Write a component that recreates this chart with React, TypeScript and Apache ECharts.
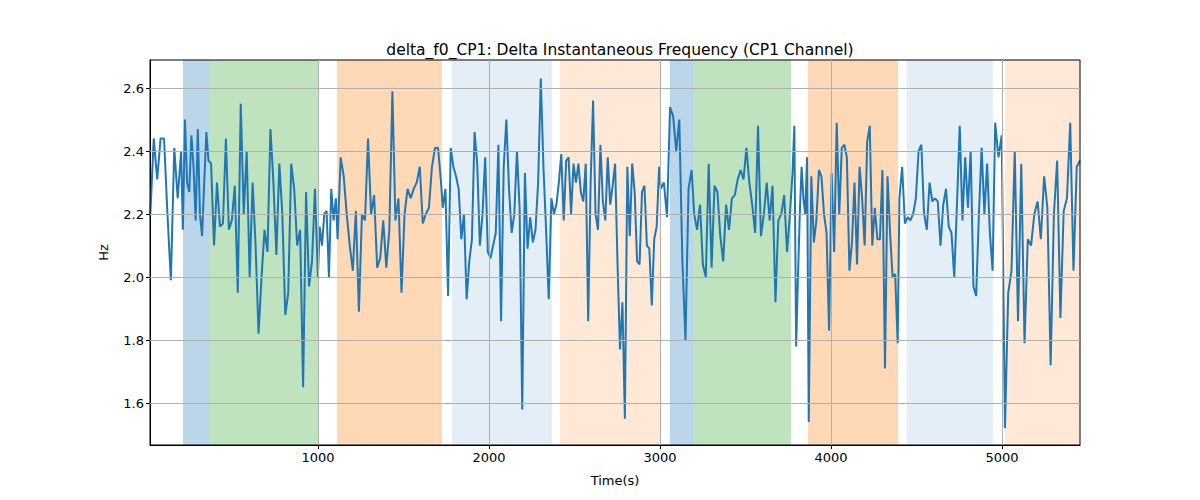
import React, { useRef, useEffect } from 'react';
import * as echarts from 'echarts';

const xTicks = [1000, 2000, 3000, 4000, 5000];
const yTicks = [1.6, 1.8, 2.0, 2.2, 2.4, 2.6];

// segments of the signal: [start time, end time, values]
const seg1: number[] = [2.2, 2.44, 2.31, 2.44, 2.44, 2.2, 1.99, 2.41, 2.25, 2.4];
const seg2: number[] = [2.15, 2.5, 2.3, 2.27, 2.45, 2.35, 2.18, 2.47, 2.2, 2.13, 2.3, 2.46, 2.37];
const seg3: number[] = [2.36, 2.1, 2.3, 2.16, 2.17, 2.44, 2.15, 2.18, 2.29, 1.95, 2.55, 2.2, 2.4, 2.0, 2.3, 2.1, 1.82, 2.0, 2.15, 2.08, 2.47, 2.3, 2.07, 2.36, 2.2, 1.88, 1.95, 2.36, 2.28, 2.1, 2.15, 1.65, 2.27, 1.97, 2.05, 2.28, 2.0];
const seg4: number[] = [2.16, 2.1, 2.2, 2.21, 2.0, 2.28, 2.18, 2.25];
const seg5: number[] = [2.12, 2.38, 2.32, 2.2, 2.1, 2.02, 2.21, 1.89, 2.2, 2.18, 2.44, 2.2, 2.26, 2.03, 2.06, 2.18, 2.03, 2.15, 2.59, 2.18, 2.25, 1.95, 2.2, 2.28, 2.25, 2.28, 2.3, 2.35, 2.17, 2.2, 2.22, 2.35, 2.41, 2.41, 2.3];
const seg6: number[] = [2.22, 2.28, 1.94, 2.41, 2.35, 2.32, 2.28, 2.12, 2.2, 1.93, 2.05, 2.12, 2.46, 2.36, 2.1, 2.2, 2.38, 2.08, 2.06, 2.1, 2.14, 2.42, 1.86, 2.35, 2.5, 2.28, 2.14, 2.2, 2.4, 2.22, 1.58, 2.33, 2.09, 2.19, 2.11, 2.15, 2.3, 2.63, 2.35, 2.15, 1.93, 2.25];
const seg7: number[] = [2.2, 2.23, 2.3, 2.39, 2.18, 2.37, 2.38, 2.2, 2.36, 2.3, 2.36, 2.27, 2.24, 2.36, 1.86, 2.3, 2.56, 2.2, 2.15, 2.42, 2.24, 2.18, 2.38, 2.23, 2.29, 2.36, 2.04, 1.77, 1.92, 1.55, 2.35, 2.13, 2.36, 2.27, 2.05, 2.04, 2.27, 2.29, 2.1, 2.09, 1.91, 2.12, 2.16, 2.35];
const seg8: number[] = [2.28, 2.3, 2.19, 2.54, 2.51, 2.4, 2.5, 2.05, 1.8, 2.28, 2.34];
const seg9: number[] = [2.2, 2.15, 2.23, 2.04, 2.0, 2.36, 2.03, 2.29, 2.27, 2.13, 2.05, 2.23, 2.15, 2.25, 2.26, 2.31, 2.34, 2.31, 2.41, 2.3, 2.23, 2.14, 2.48, 2.13, 2.2, 2.3, 2.18, 2.29, 1.92, 2.18, 2.2, 2.26, 2.08, 2.2];
const seg10: number[] = [2.33, 2.48, 1.78, 2.0, 2.2, 2.35, 2.25, 2.2, 2.38];
const seg11: number[] = [1.54, 2.32, 2.11, 2.18, 2.34, 2.32, 2.2, 2.14, 1.83, 2.33, 2.08, 2.49, 2.2, 2.41, 2.42, 2.38, 2.02, 2.11, 2.3, 2.04, 2.35, 2.25, 2.1, 2.43, 2.48, 2.1, 2.22, 2.12, 2.12, 2.34, 1.71, 2.32, 2.14, 2.0, 2.01, 1.79];
const seg12: number[] = [2.25, 2.35, 2.17, 2.19, 2.18, 2.2, 2.25, 2.4, 2.42, 2.2, 2.15, 2.3, 2.24, 2.25, 2.24, 2.1, 2.23, 2.28, 2.16, 2.14, 2.0, 2.23, 2.48, 2.18, 2.38, 2.22, 2.4, 1.97, 1.94, 2.2, 2.41, 2.2, 2.36, 2.14, 2.02];
const seg13: number[] = [2.49, 2.38, 2.45, 1.52, 1.95, 2.02, 2.4, 1.86, 2.36, 1.79, 2.12, 2.1, 2.2, 2.24, 2.12, 2.32, 2.22, 1.72, 2.2, 2.37, 1.87, 2.21, 2.25, 2.49, 2.02, 2.35, 2.37];

const segments: [number, number, number[]][] = [
  [20, 200, seg1], [210, 360, seg2], [375, 1000, seg3], [1010, 1105, seg4],
  [1115, 1720, seg5], [1730, 2365, seg6], [2380, 2995, seg7], [3005, 3185, seg8],
  [3200, 3760, seg9], [3775, 3860, seg10], [3870, 4390, seg11], [4400, 4945, seg12],
  [4960, 5456, seg13],
];

// shaded phases: [start, end, color]
const phases: [number, number, string][] = [
  [211, 368, 'rgba(31,119,180,0.3)'],
  [368, 1006, 'rgba(44,160,44,0.3)'],
  [1111, 1725, 'rgba(255,127,14,0.3)'],
  [1784, 2368, 'rgba(31,119,180,0.12)'],
  [2415, 3000, 'rgba(255,127,14,0.17)'],
  [3058, 3193, 'rgba(31,119,180,0.3)'],
  [3193, 3766, 'rgba(44,160,44,0.3)'],
  [3865, 4392, 'rgba(255,127,14,0.3)'],
  [4444, 4947, 'rgba(31,119,180,0.12)'],
  [5018, 5456, 'rgba(255,127,14,0.17)'],
];

const App: React.FC = () => {
  const chartRef = useRef<HTMLDivElement>(null);

  useEffect(() => {
    if (!chartRef.current) return;
    const chart = echarts.init(chartRef.current, undefined, { renderer: 'svg' });

    const points: [number, number][] = [];
    segments.forEach(([a, b, vals]) => {
      const n = vals.length;
      vals.forEach((v, i) => points.push([a + (n > 1 ? ((b - a) * i) / (n - 1) : 0), v]));
    });

    const font = 'DejaVu Sans';
    chart.setOption({
      animation: false,
      textStyle: { fontFamily: font },
      title: {
        text: 'delta_f0_CP1: Delta Instantaneous Frequency (CP1 Channel)',
        left: 615, top: 37, textAlign: 'center',
        textStyle: { fontSize: 15.5, fontWeight: 'normal', color: '#000', fontFamily: font },
      },
      grid: { left: 150, right: 120, top: 60, bottom: 55, show: true, borderColor: '#000', borderWidth: 1, backgroundColor: 'transparent', z: 5 },
      xAxis: {
        type: 'value', min: 18, max: 5456,
        name: 'Time(s)', nameLocation: 'middle', nameGap: 29,
        nameTextStyle: { fontSize: 13, color: '#000' },
        axisLine: { onZero: false, lineStyle: { color: '#000' } },
        axisTick: { show: true, length: 4, customValues: xTicks, lineStyle: { color: '#000' } },
        axisLabel: { customValues: xTicks, fontSize: 13, color: '#000', margin: 6, formatter: (v: number) => String(v) },
        splitLine: { show: false },
      },
      yAxis: {
        type: 'value', min: 1.467, max: 2.689,
        name: 'Hz', nameLocation: 'middle', nameGap: 40,
        nameTextStyle: { fontSize: 13, color: '#000' },
        axisLine: { show: true, lineStyle: { color: '#000' } },
        axisTick: { show: true, length: 4, customValues: yTicks, lineStyle: { color: '#000' } },
        axisLabel: { customValues: yTicks, fontSize: 13, color: '#000', margin: 6, formatter: (v: number) => v.toFixed(1) },
        splitLine: { show: false },
      },
      series: [
        {
          type: 'line', data: [], silent: true, z: 1,
          markArea: {
            silent: true,
            data: phases.map(([a, b, c]) => [
              { xAxis: a, itemStyle: { color: c } },
              { xAxis: b },
            ]),
          },
        },
        {
          type: 'line', data: [], silent: true, z: 2,
          markLine: {
            silent: true, symbol: 'none', label: { show: false },
            lineStyle: { color: '#b0b0b0', width: 1, type: 'solid' },
            data: [...xTicks.map((v) => ({ xAxis: v })), ...yTicks.map((v) => ({ yAxis: v }))],
          },
        },
        {
          type: 'line', data: points, showSymbol: false,
          lineStyle: { color: '#1f77b4', width: 2 },
          z: 3,
        },
      ],
    });

    return () => chart.dispose();
  }, []);

  return <div ref={chartRef} style={{ width: 1200, height: 500, margin: -8 }} />;
};

export default App;
